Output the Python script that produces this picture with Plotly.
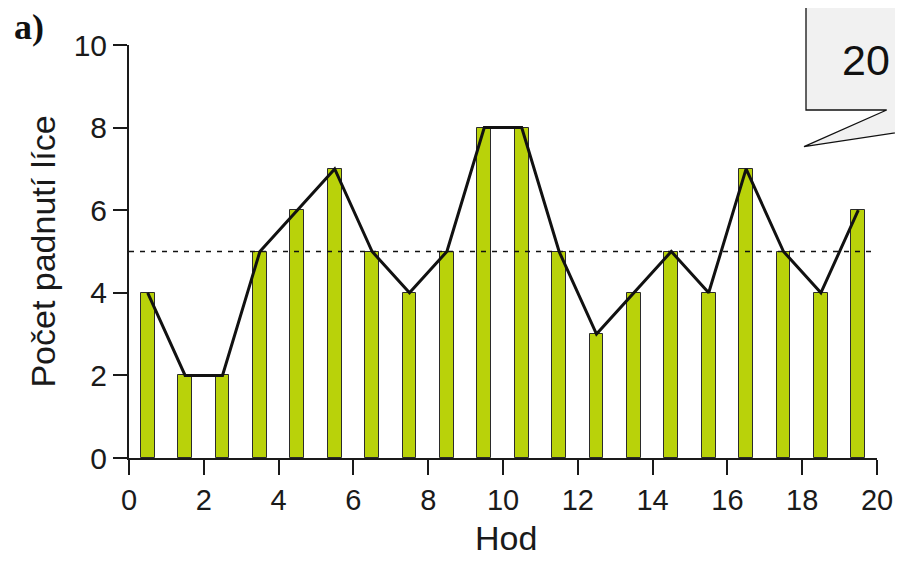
import plotly.graph_objects as go

# Data
hody = [i + 0.5 for i in range(20)]
pocet_lice = [4, 2, 2, 5, 6, 7, 5, 4, 5, 8, 8, 5, 3, 4, 5, 4, 7, 5, 4, 6]
prumer = 5
x_ticks = [0, 2, 4, 6, 8, 10, 12, 14, 16, 18, 20]
y_ticks = [0, 2, 4, 6, 8, 10]
panel_label = "a)"
callout_text = "20"
x_title = "Hod"
y_title = "Počet padnutí líce"

OFF = 8  # page body margin
W, H = 903 - 2 * OFF, 564 - 2 * OFF
ML, MT = 129 - OFF, 45 - OFF
PW, PH = 748, 413
MR, MB = W - ML - PW, H - MT - PH

def px(x):
    return (x - OFF - ML) / PW

def py(y):
    return (MT + PH - (y - OFF)) / PH

FONT = "Liberation Sans, Arial, sans-serif"

fig = go.Figure()
fig.add_trace(go.Bar(
    x=hody, y=pocet_lice, width=0.37,
    marker=dict(color="#b9d20a", line=dict(color="#2b2b2b", width=1)),
    showlegend=False, hoverinfo="skip",
))
fig.add_trace(go.Scatter(
    x=hody, y=pocet_lice, mode="lines",
    line=dict(color="#111111", width=3),
    showlegend=False, hoverinfo="skip",
))

fig.add_shape(type="line", xref="x", yref="y", x0=0, x1=20, y0=prumer, y1=prumer,
              line=dict(color="#111111", width=1.6, dash="5px,6px"))

# callout
path = "M {a},{b} L {c},{b} L {c},{d} L {e},{f} L {g},{h} L {a},{h} Z".format(
    a=px(806), b=py(7), c=px(915), d=py(129.9), e=px(804), f=py(146.7),
    g=px(886.7), h=py(110))
fig.add_shape(type="path", xref="paper", yref="paper", path=path,
              fillcolor="#f1f1f1", line=dict(color="#111111", width=1.3))
fig.add_annotation(x=px(866), y=py(60), xref="paper", yref="paper",
                   xanchor="center", yanchor="middle",
                   text=callout_text, showarrow=False,
                   font=dict(family=FONT, size=43, color="#111111"))
fig.add_annotation(x=px(12), y=py(27), xref="paper", yref="paper",
                   xanchor="left", yanchor="middle",
                   text="<b>" + panel_label + "</b>", showarrow=False,
                   font=dict(family="Liberation Serif, Times New Roman, serif", size=36, color="#111111"))
fig.add_annotation(x=px(506), y=py(538), xref="paper", yref="paper",
                   xanchor="center", yanchor="middle", borderpad=0,
                   text=x_title, showarrow=False,
                   font=dict(family=FONT, size=34, color="#1a1a1a"))

fig.update_layout(
    width=W, height=H, autosize=False,
    margin=dict(l=ML, r=MR, t=MT, b=MB, pad=0, autoexpand=False),
    paper_bgcolor="white", plot_bgcolor="white",
    font=dict(family=FONT, color="#1a1a1a"),
    bargap=0,
    xaxis=dict(
        range=[0, 20], tickvals=x_ticks, ticktext=[str(v) for v in x_ticks],
        showgrid=False, zeroline=False, showline=True, linecolor="#1a1a1a", linewidth=2,
        ticks="outside", ticklen=15, tickwidth=2, tickcolor="#1a1a1a",
        tickfont=dict(size=29, family=FONT), automargin=False,
        ticklabeloverflow="allow",
    ),
    yaxis=dict(
        range=[0, 10], tickvals=y_ticks, ticktext=[str(v) for v in y_ticks],
        showgrid=False, zeroline=False, showline=True, linecolor="#1a1a1a", linewidth=2,
        ticks="outside", ticklen=14, tickwidth=2, tickcolor="#1a1a1a",
        tickfont=dict(size=30, family=FONT), automargin=False,
        title=dict(text=y_title, font=dict(size=34, family=FONT), standoff=8),
    ),
)

fig.write_html("out.html")
